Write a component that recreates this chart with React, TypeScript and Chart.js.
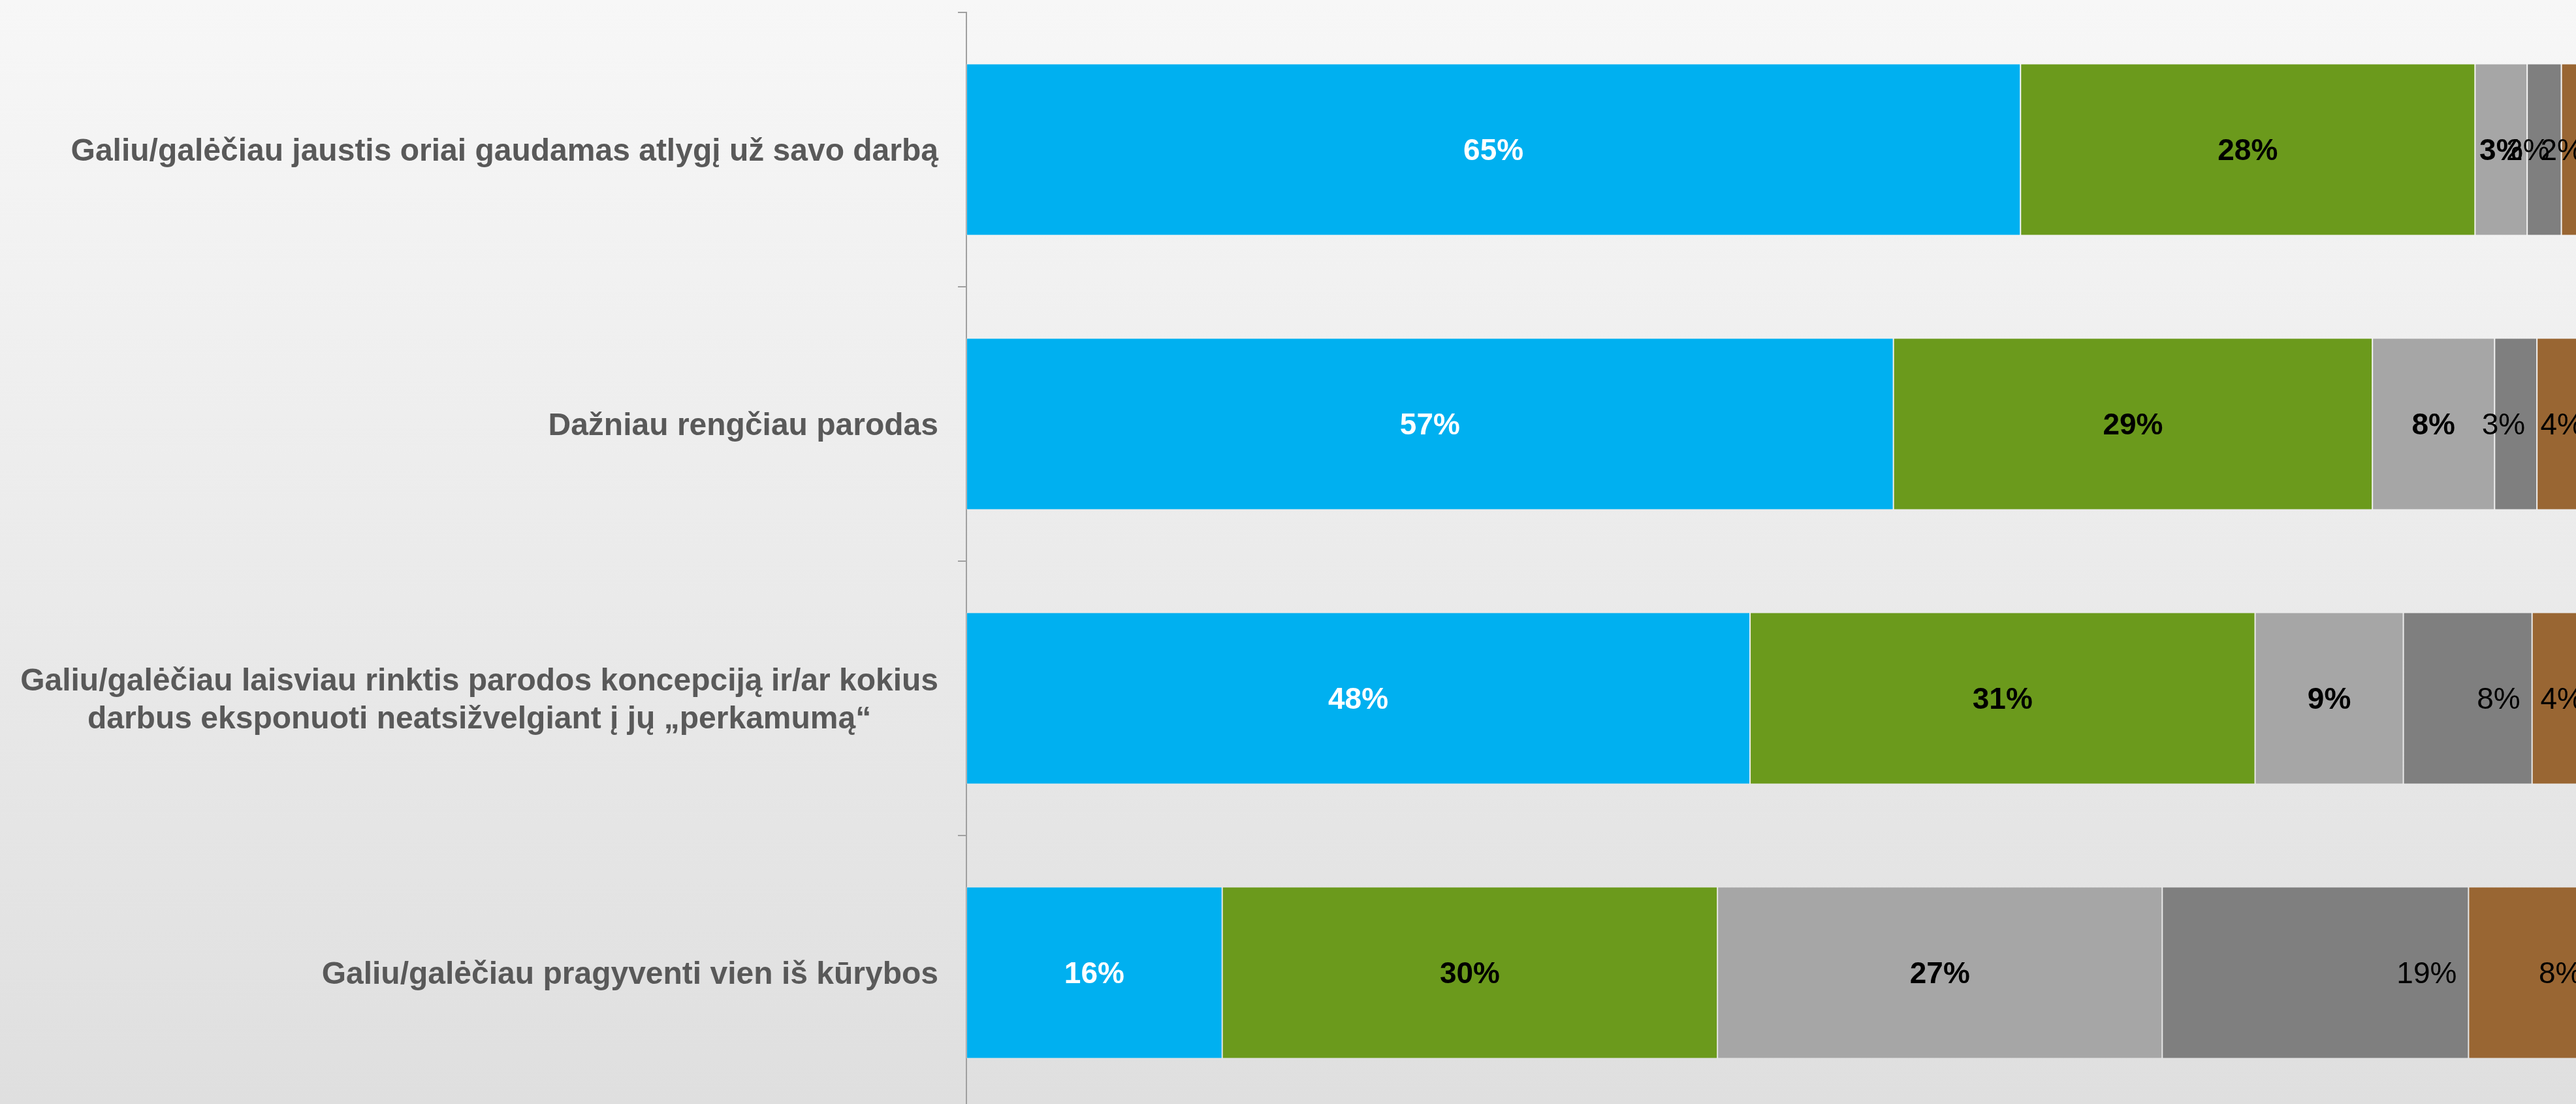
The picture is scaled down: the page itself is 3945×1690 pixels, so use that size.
import React, { useEffect, useRef } from "react";
import { Chart, registerables } from "chart.js";

Chart.register(...registerables);

// ---- Data ----
const categories: string[][] = [
  ["Galiu/galėčiau jaustis oriai gaudamas atlygį už savo darbą"],
  ["Dažniau rengčiau parodas"],
  [
    "Galiu/galėčiau laisviau rinktis parodos koncepciją ir/ar kokius",
    "darbus eksponuoti neatsižvelgiant į jų „perkamumą“",
  ],
  ["Galiu/galėčiau pragyventi vien iš kūrybos"],
];

const seriesNames = [
  "Visiškai sutinku",
  "Sutinku",
  "Nei sutinku, nei nesutinku",
  "Nesutinku",
  "Visiškai nesutinku",
];

// values (percent); labels show rounded values
const series1 = [64.7, 56.9, 48.1, 15.7];
const series2 = [27.9, 29.4, 31.0, 30.4];
const series3 = [3.2, 7.5, 9.1, 27.3];
const series4 = [2.1, 2.6, 7.9, 18.8];
const series5 = [2.2, 3.6, 3.9, 7.7];

const seriesValues = [series1, series2, series3, series4, series5];
const seriesColors = ["#00B0F0", "#6B9A1C", "#A6A6A6", "#7F7F7F", "#996633"];
const labelColors = ["#FFFFFF", "#000000", "#000000", "#000000", "#000000"];
const labelBold = [true, true, true, false, false];
const labelAtEnd = [false, false, false, true, true];

const FONT = '"Liberation Sans", Arial, Helvetica, sans-serif';

const segmentLabelPlugin = {
  id: "segmentLabels",
  afterDatasetsDraw(chart: any) {
    const ctx = chart.ctx;
    const area = chart.chartArea;
    const size = 46;
    ctx.save();
    chart.data.datasets.forEach((ds: any, di: number) => {
      const meta = chart.getDatasetMeta(di);
      meta.data.forEach((bar: any, i: number) => {
        const p = bar.getProps(["x", "y", "base"], true);
        const left = Math.min(p.x, p.base);
        const right = Math.min(Math.max(p.x, p.base), area.right);
        const text = Math.round(ds.data[i]) + "%";
        ctx.font = (labelBold[di] ? "bold " : "") + size + "px " + FONT;
        ctx.fillStyle = labelColors[di];
        ctx.textBaseline = "alphabetic";
        const by = p.y + size * 0.358;
        if (labelAtEnd[di]) {
          ctx.textAlign = "right";
          ctx.fillText(text, right - 18, by);
        } else {
          ctx.textAlign = "center";
          ctx.fillText(text, (left + right) / 2, by);
        }
      });
    });
    ctx.restore();
  },
};

const categoryLabelPlugin = {
  id: "categoryLabels",
  afterDraw(chart: any) {
    const ctx = chart.ctx;
    const yScale = chart.scales.y;
    const rightX = chart.chartArea.left - 43;
    const size = 48;
    const lineH = 58;
    ctx.save();
    ctx.font = "bold " + size + "px " + FONT;
    ctx.fillStyle = "#595959";
    ctx.textBaseline = "alphabetic";
    (chart.data.labels as string[][]).forEach((lines, i) => {
      const cy = yScale.getPixelForTick(i);
      const n = lines.length;
      const maxW = Math.max(...lines.map((l) => ctx.measureText(l).width));
      lines.forEach((line, j) => {
        const yy = cy + (j - (n - 1) / 2) * lineH + size * 0.358;
        if (n === 1) {
          ctx.textAlign = "right";
          ctx.fillText(line, rightX, yy);
        } else {
          ctx.textAlign = "center";
          ctx.fillText(line, rightX - maxW / 2, yy);
        }
      });
    });
    ctx.restore();
  },
};

export default function App() {
  const canvasRef = useRef<HTMLCanvasElement | null>(null);

  useEffect(() => {
    const canvas = canvasRef.current;
    if (!canvas) return;
    const chart = new Chart(canvas, {
      type: "bar",
      data: {
        labels: categories as any,
        datasets: seriesValues.map((vals, k) => ({
          label: seriesNames[k],
          data: vals,
          backgroundColor: seriesColors[k],
          borderColor: "rgba(255,255,255,0.35)",
          borderWidth: 1,
          borderSkipped: false,
          categoryPercentage: 1,
          barPercentage: 0.626,
        })),
      },
      options: {
        indexAxis: "y",
        responsive: false,
        maintainAspectRatio: false,
        devicePixelRatio: 1,
        animation: false,
        layout: { padding: { top: 19, right: 25, bottom: 21, left: 0 } },
        plugins: {
          legend: { display: false },
          tooltip: { enabled: false },
          title: { display: false },
        },
        scales: {
          x: {
            display: false,
            stacked: true,
            min: 0,
            max: 100,
          },
          y: {
            stacked: true,
            offset: true,
            afterFit: (scale: any) => {
              scale.width = 1480;
            },
            ticks: { display: false },
            grid: {
              display: true,
              offset: true,
              drawOnChartArea: false,
              drawTicks: true,
              tickLength: 13,
              color: "#A0A0A0",
              lineWidth: 2,
            },
            border: { display: true, color: "#A0A0A0", width: 2 },
          },
        },
      },
      plugins: [segmentLabelPlugin, categoryLabelPlugin],
    } as any);
    return () => chart.destroy();
  }, []);

  return (
    <div
      style={{
        position: "fixed",
        left: 0,
        top: 0,
        width: "100vw",
        height: "100vh",
        overflow: "hidden",
        background: "linear-gradient(to bottom, #f7f7f7 0%, #dfdfdf 100%)",
      }}
    >
      <canvas
        ref={canvasRef}
        width={4000}
        height={1720}
        style={{ display: "block", width: "4000px", height: "1720px" }}
      />
    </div>
  );
}
